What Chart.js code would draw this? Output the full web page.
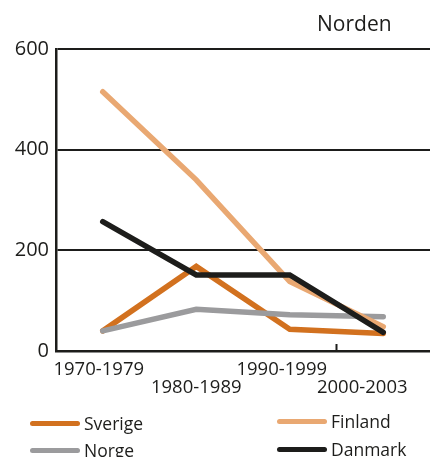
<!DOCTYPE html>
<html>
<head>
<meta charset="utf-8">
<script src="https://cdn.jsdelivr.net/npm/chart.js@4.4.1/dist/chart.umd.min.js"></script>
<style>
  html, body { margin: 0; padding: 0; background: #fff; }
  #wrap { position: relative; width: 430px; height: 457px; overflow: hidden; font-family: "Open Sans", "Noto Sans", sans-serif; color: #1d1d1b; }
  #c { position: absolute; left: 0; top: 0; }
  #title { position: absolute; left: 317px; top: 8px; font-size: 21px; line-height: 30px; }
  .leg { position: absolute; font-size: 17.5px; line-height: 22px; display: flex; align-items: center; }
  .leg span.sw { display: inline-block; width: 50px; height: 5px; border-radius: 3px; margin-right: 4px; }
</style>
</head>
<body>
<div id="wrap">
  <canvas id="c" width="430" height="457"></canvas>
  <div id="title">Norden</div>
  <div id="legend"></div>
</div>
<script>
// Periods on the x axis
const periods = ["1970-1979", "1980-1989", "1990-1999", "2000-2003"];

// Values per country and period
const sverige = [40, 168, 43, 35];
const finland = [515, 340, 138, 48];
const norge   = [40, 83, 72, 68];
const danmark = [257, 151, 151, 37];

// Y axis ticks
const yTicks = [0, 200, 400, 600];

const colors = {
  Sverige: "#d2711f",
  Finland: "#e9a872",
  Norge:   "#9b9b9d",
  Danmark: "#1d1d1b"
};

const FONT = "'Open Sans', 'Noto Sans', sans-serif";

// Period labels, staggered over two rows, plus one tick mark
// between the last two periods
const periodLabels = {
  id: "periodLabels",
  afterDatasetsDraw(chart) {
    const xs = chart.scales.x;
    const ctx = chart.ctx;
    const b = chart.chartArea.bottom;
    const shift = [-4, 0, -8, -21];
    const rowY = [b + 19, b + 37];
    ctx.save();
    ctx.strokeStyle = "#1d1d1b";
    ctx.lineWidth = 2;
    const tx = (xs.getPixelForTick(2) + xs.getPixelForTick(3)) / 2;
    ctx.beginPath();
    ctx.moveTo(tx, b);
    ctx.lineTo(tx, b - 7);
    ctx.stroke();
    ctx.fillStyle = "#1d1d1b";
    ctx.font = "18.5px " + FONT;
    ctx.textAlign = "center";
    ctx.textBaseline = "middle";
    periods.forEach((p, i) => {
      ctx.fillText(p, xs.getPixelForTick(i) + shift[i], rowY[i % 2]);
    });
    ctx.restore();
  }
};

const mk = (label, data, order) => ({
  label, data, order,
  borderColor: colors[label],
  backgroundColor: colors[label],
  borderWidth: 5.5,
  borderCapStyle: "round",
  borderJoinStyle: "miter",
  pointRadius: 0,
  tension: 0,
  fill: false
});

const chart = new Chart(document.getElementById("c"), {
  type: "line",
  data: {
    labels: periods,
    datasets: [
      mk("Sverige", sverige, 3),
      mk("Finland", finland, 1),
      mk("Norge", norge, 2),
      mk("Danmark", danmark, 0)
    ]
  },
  options: {
    responsive: false,
    animation: false,
    devicePixelRatio: 1,
    layout: { padding: { top: 49, left: 0, right: 0, bottom: 0 } },
    plugins: { legend: { display: false }, tooltip: { enabled: false }, title: { display: false } },
    scales: {
      x: {
        offset: true,
        grid: { display: false, drawTicks: false },
        border: { display: true, color: "#1d1d1b", width: 2.5 },
        ticks: { display: false },
        afterFit(s) { s.height = 106; }
      },
      y: {
        min: 0, max: 600,
        afterBuildTicks(s) { s.ticks = yTicks.map(v => ({ value: v })); },
        grid: { color: "#1d1d1b", lineWidth: 2, drawTicks: false },
        border: { display: true, color: "#1d1d1b", width: 2.5 },
        ticks: {
          color: "#1d1d1b",
          font: { family: FONT, size: 20 },
          padding: 7
        },
        afterFit(s) { s.width = 56; }
      }
    }
  },
  plugins: [periodLabels]
});

// Legend in two columns
const legendItems = [
  { name: "Sverige", left: 30, top: 412 },
  { name: "Norge",   left: 30, top: 439 },
  { name: "Finland", left: 277, top: 410 },
  { name: "Danmark", left: 277, top: 438 }
];
const legend = document.getElementById("legend");
legendItems.forEach(it => {
  const d = document.createElement("div");
  d.className = "leg";
  d.style.left = it.left + "px";
  d.style.top = it.top + "px";
  const sw = document.createElement("span");
  sw.className = "sw";
  sw.style.background = colors[it.name];
  d.appendChild(sw);
  d.appendChild(document.createTextNode(it.name));
  legend.appendChild(d);
});
</script>
</body>
</html>
